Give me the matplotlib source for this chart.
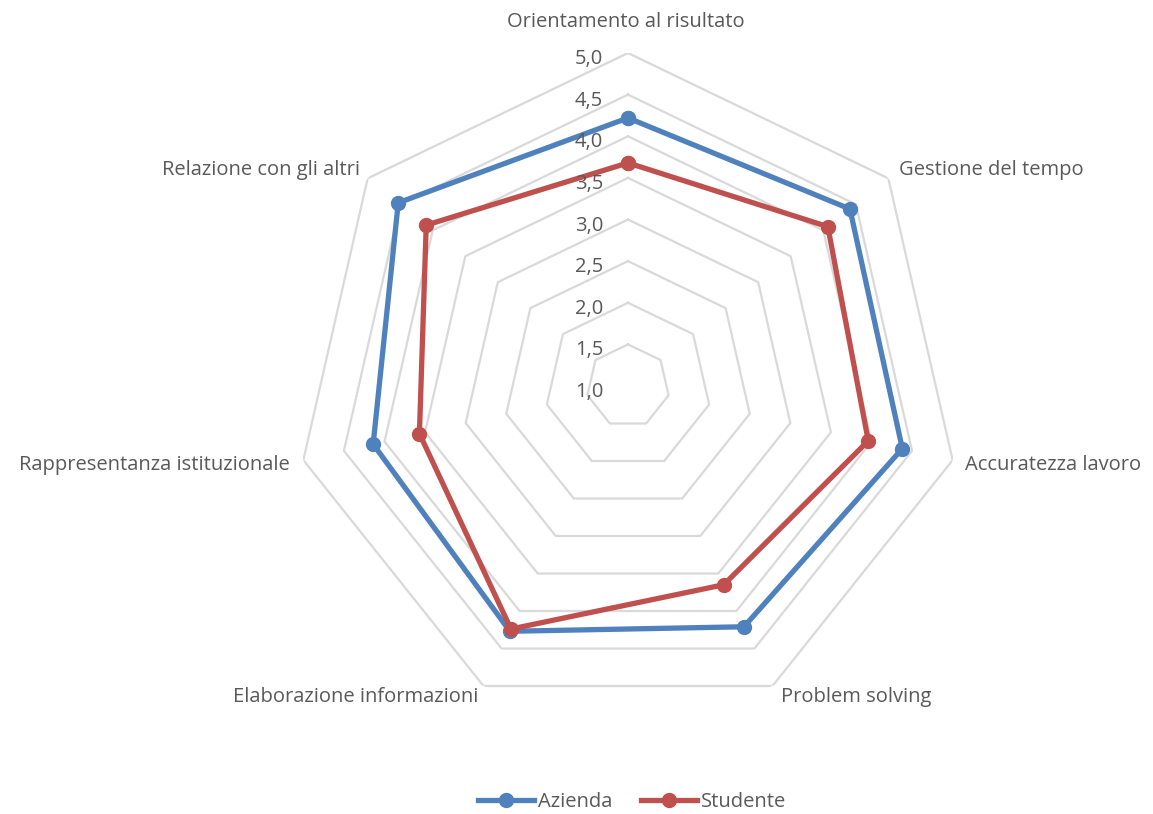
import numpy as np
import matplotlib.pyplot as plt
from matplotlib.lines import Line2D

categories = ["Orientamento al risultato", "Gestione del tempo", "Accuratezza lavoro",
              "Problem solving", "Elaborazione informazioni",
              "Rappresentanza istituzionale", "Relazione con gli altri"]
azienda = [4.22, 4.41, 4.38, 4.21, 4.27, 4.14, 4.53]
studente = [3.68, 4.07, 3.96, 3.65, 4.24, 3.57, 4.10]
levels = [1.5, 2.0, 2.5, 3.0, 3.5, 4.0, 4.5, 5.0]
level_labels = ["1,0", "1,5", "2,0", "2,5", "3,0", "3,5", "4,0", "4,5", "5,0"]

blue = "#4F81BD"
red = "#C0504D"
grid_col = "#D9D9D9"
txt_col = "#595959"

W, H = 1153, 814
fig = plt.figure(figsize=(W / 100, H / 100), dpi=100)
plt.rcParams['font.family'] = ['Open Sans', 'DejaVu Sans']

cx, cy, R = 628, 386, 333
ax = fig.add_axes([(cx - R) / W, 1 - (cy + R) / H, 2 * R / W, 2 * R / H], projection='polar')
ax.set_theta_zero_location('N')
ax.set_theta_direction(-1)
ax.set_ylim(1, 5)
ax.grid(False)
ax.spines['polar'].set_visible(False)
ax.set_xticks([])
ax.set_yticks([])
ax.patch.set_alpha(0)

n = len(categories)
ang = np.linspace(0, 2 * np.pi, n, endpoint=False)
ang_c = np.append(ang, ang[0])

# polygon grid, no spokes
for lv in levels:
    ax.plot(ang_c, [lv] * (n + 1), color=grid_col, lw=1.6, zorder=1)

# radial labels
for i, lab in enumerate(level_labels):
    v = 1 + 0.5 * i
    r_px = (v - 1) / 4 * R
    fig.text((cx - 39) / W, 1 - (cy - r_px + 6) / H, lab, ha='center', va='center',
             fontsize=14.5, color=txt_col)

ax.plot(ang_c, azienda + azienda[:1], color=blue, lw=3.8, marker='o', markersize=10, zorder=3)
ax.plot(ang_c, studente + studente[:1], color=red, lw=3.8, marker='o', markersize=10, zorder=4)

# category labels
lab_pos = [(626, 22, 'center'), (899, 170, 'left'), (965, 465, 'left'), (781, 697, 'left'),
           (478, 697, 'right'), (290, 465, 'right'), (360, 170, 'right')]
for (x, y, ha), c in zip(lab_pos, categories):
    fig.text(x / W, 1 - y / H, c, ha=ha, va='center', fontsize=14.5, color=txt_col)

handles = [Line2D([], [], color=blue, lw=3.8, marker='o', markersize=10),
           Line2D([], [], color=red, lw=3.8, marker='o', markersize=10)]
fig.legend(handles, ["Azienda", "Studente"], loc='center', bbox_to_anchor=(0.548, 1 - 802 / H),
           ncol=2, frameon=False, fontsize=14.5, handlelength=2.8, columnspacing=1.4,
           handletextpad=0.2, labelcolor=txt_col)

fig.savefig("out.png", dpi=100)
